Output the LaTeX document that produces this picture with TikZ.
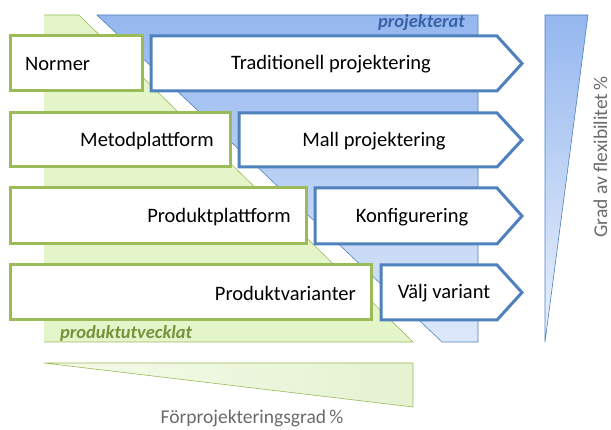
\documentclass[tikz,border=0pt]{standalone}
\usepackage{fontspec}
\setmainfont{Carlito}
\begin{document}
\begin{tikzpicture}[x=1pt,y=-1pt,
  gbox/.style={draw=gline,line width=3pt,fill=white},
  barrow/.style={draw=bline,line width=3pt,fill=white,line join=miter},
  lbl/.style={font=\fontsize{20.5}{22}\selectfont,inner sep=0pt},
  axl/.style={font=\fontsize{19.5}{21}\selectfont,text=axgray,inner sep=0pt}]
\definecolor{gline}{HTML}{9BBB59}
\definecolor{bline}{HTML}{4F81BD}
\definecolor{gfill}{HTML}{E4F5CA}
\definecolor{btop}{HTML}{95B7EF}
\definecolor{bbot}{HTML}{DDE8FA}
\definecolor{ptext}{HTML}{3A62A8}
\definecolor{gtext}{HTML}{76923C}
\definecolor{axgray}{HTML}{6A6A6A}
\useasboundingbox (0,0) rectangle (611,430);
% background shapes
\shade[top color=btop,bottom color=bbot,draw=bline,line width=0.6pt] (97,15) -- (478,15) -- (478,342) -- (442,342) -- cycle;
\fill[gfill] (44,15) -- (79,15) -- (413,342) -- (44,342) -- cycle;
\draw[gline,line width=0.6pt] (44,15) -- (79,15) -- (413,342) -- (44,342);
\node[font=\fontsize{18.5}{20}\selectfont\bfseries\itshape,text=ptext,anchor=base east,inner sep=0pt] (proj) at (465,28) {projekterat};
\node[font=\fontsize{18.5}{20}\selectfont\bfseries\itshape,text=gtext,anchor=base west,inner sep=0pt] (prod) at (60,339) {produktutvecklat};
% right wedge
\shade[top color=btop,bottom color=bbot!60!white,draw=bline,line width=0.6pt] (545,15) -- (588,15) -- (545,342) -- cycle;
% bottom wedge
\shade[left color=gfill!40!white,right color=gfill!80!gline!60,draw=gline,line width=0.6pt] (44,363) -- (413,363) -- (413,407) -- cycle;
% blue arrows
\draw[barrow] (151,36) -- (497,36) -- (522,63.5) -- (497,91) -- (151,91) -- cycle;
\draw[barrow] (239,113) -- (497,113) -- (522,140) -- (497,167) -- (239,167) -- cycle;
\draw[barrow] (315,188) -- (497,188) -- (522,216) -- (497,244) -- (315,244) -- cycle;
\draw[barrow] (381,265) -- (497,265) -- (522,292.5) -- (497,320) -- (381,320) -- cycle;
\node[lbl] (trad) at (331,64) {Traditionell projektering};
\node[lbl] (mall) at (374,141) {Mall projektering};
\node[lbl] (konf) at (412,217) {Konfigurering};
\node[lbl] (valj) at (444,293) {Välj variant};
% green boxes
\draw[gbox] (10,36) rectangle (142,91);
\draw[gbox] (10,113) rectangle (230,167);
\draw[gbox] (10,188) rectangle (306,244);
\draw[gbox] (10,265) rectangle (371,320);
\node[lbl,anchor=west] (norm) at (25,64) {Normer};
\node[lbl,anchor=east] (metod) at (214,141) {Metodplattform};
\node[lbl,anchor=east] (pplat) at (291,217) {Produktplattform};
\node[lbl,anchor=east] (pvar) at (356,293) {Produktvarianter};
% axis labels
\node[axl,anchor=base] (forp) at (252,424) {Förprojekteringsgrad\,\%};
\node[axl,rotate=90,anchor=base] (flex) at (607,157) {Grad av flexibilitet\,\%};
\end{tikzpicture}
\end{document}
